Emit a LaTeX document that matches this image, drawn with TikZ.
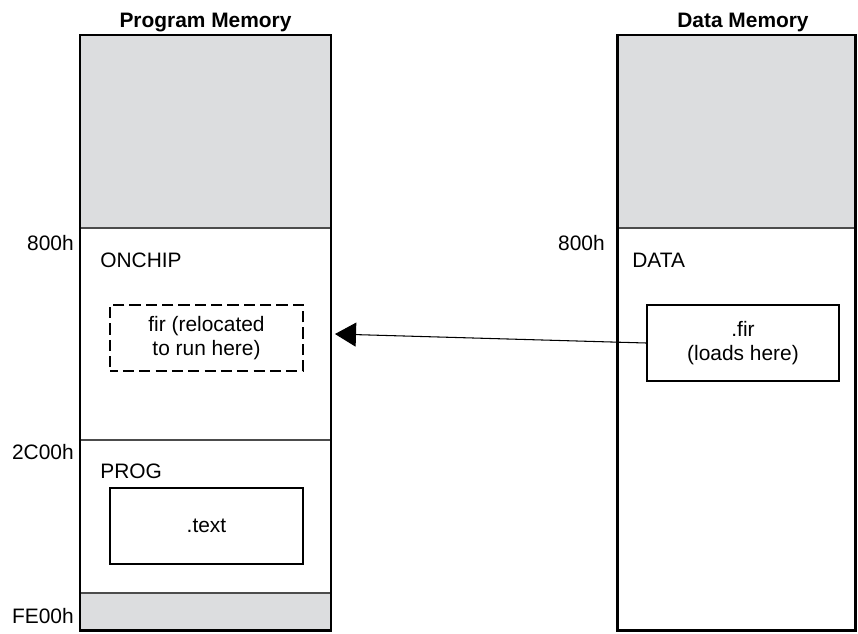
\documentclass[tikz,border=0pt]{standalone}
\usepackage{fontspec}
\setmainfont{Liberation Sans}
\usetikzlibrary{arrows.meta,positioning}
\definecolor{memgray}{RGB}{220,221,223}

\begin{document}
\begin{tikzpicture}[x=0.02cm,y=-0.02cm,font=\fontsize{11.9}{13.6}\selectfont,
  memframe/.style={line width=1.7pt},
  segline/.style={line width=0.6pt,color=black!70},
  secbox/.style={draw,line width=0.8pt,align=center,minimum width=3.86cm,minimum height=1.52cm},
  addr/.style={anchor=east,inner sep=0pt}]
\useasboundingbox (0,0) rectangle (858,633);
% program memory
\fill[memgray] (80,35) rectangle (331,228);
\fill[memgray] (80,593) rectangle (331,630);
\draw[segline] (80,228) -- (331,228);
\draw[segline] (80,440) -- (331,440);
\draw[segline] (80,593) -- (331,593);
\draw[memframe] (80,35) rectangle (331,630);
\node[anchor=base,font=\fontsize{11.9}{13.6}\selectfont\bfseries] (progtitle) at (205.5,27) {Program Memory};
\node[addr] (p800) at (74,243) {800h};
\node[addr] (p2c00) at (74,452) {2C00h};
\node[addr] (pfe00) at (74,616) {FE00h};
\node[anchor=west,inner sep=0pt] (onchip) at (100,260) {ONCHIP};
\node[anchor=west,inner sep=0pt] (prog) at (100,471) {PROG};
\node[secbox,line width=0.9pt,dash pattern=on 6.4pt off 2.9pt,dash phase=2pt,minimum height=1.32cm] (firrun) at (206.5,338) {fir (relocated\\to run here)};
\node[secbox] (text) at (206.5,526) {.text};
% data memory
\fill[memgray] (617,35) rectangle (855,228);
\draw[segline] (617,228) -- (855,228);
\draw[memframe] (617,35) rectangle (855,630);
\node[anchor=base,font=\fontsize{11.9}{13.6}\selectfont\bfseries] (datatitle) at (743,27) {Data Memory};
\node[addr] (d800) at (605,243) {800h};
\node[anchor=west,inner sep=0pt] (data) at (632,260) {DATA};
\node[secbox,minimum width=3.84cm] (firload) at (743,343) {.fir\\(loads here)};
% load -> run
\coordinate (tip) at (335,334);
\draw[line width=0.6pt,-{Triangle[length=0.42cm,width=0.48cm]}] (firload.west) -- (tip);
\end{tikzpicture}
\end{document}
